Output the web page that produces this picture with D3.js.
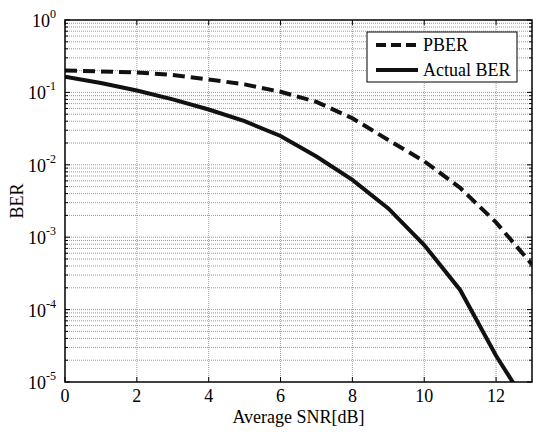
<!DOCTYPE html>
<html>
<head>
<meta charset="utf-8">
<script src="https://cdn.jsdelivr.net/npm/d3@7"></script>
<style>
  body { margin: 0; background: #fff; }
  svg text { font-family: "Liberation Serif", "DejaVu Serif", serif; }
</style>
</head>
<body>
<div id="chart"></div>
<script>
let width = 533;
let height = 432;
let margin = {left: 65, top: 20, right: 0, bottom: 50};

// data
var snr = [0, 1, 2, 3, 4, 5, 6, 7, 8, 9, 10, 11, 12, 13];
var pber = [0.20, 0.195, 0.189, 0.174, 0.151, 0.129, 0.102, 0.074, 0.044, 0.022, 0.0112, 0.0048, 0.0016, 0.00042];
var actualBer = [0.165, 0.135, 0.106, 0.080, 0.058, 0.040, 0.025, 0.013, 0.0062, 0.0025, 0.00078, 0.000187, 0.000023, 0.0000038];
var xTicks = [0, 2, 4, 6, 8, 10, 12];
var yExps = [0, -1, -2, -3, -4, -5];
var seriesNames = ["PBER", "Actual BER"];

let fontFamily = "'Liberation Serif', 'DejaVu Serif', serif";

let svg = d3.select("#chart").append("svg")
    .attr("width", width)
    .attr("height", height)
    .attr("font-family", fontFamily);

let x = d3.scaleLinear().domain([0, 13]).range([margin.left, width - margin.right - 1]);
let y = d3.scaleLog().domain([1e-5, 1]).range([height - margin.bottom, margin.top]);

let x0 = x.range()[0], x1 = x.range()[1];
let y0 = y.range()[0], y1 = y.range()[1];

// grid
let minorVals = [];
for (let e = -5; e < 0; e++) {
    for (let m = 1; m < 10; m++) minorVals.push(m * Math.pow(10, e));
}
minorVals.push(1);

svg.append("g")
    .selectAll("line")
    .data(minorVals.filter(v => v > 1e-5 && v < 1))
    .join("line")
    .attr("x1", x0).attr("x2", x1)
    .attr("y1", d => y(d)).attr("y2", d => y(d))
    .attr("stroke", "#999")
    .attr("stroke-width", 1)
    .attr("stroke-dasharray", "1,1");

svg.append("g")
    .selectAll("line")
    .data(xTicks.filter(v => v > 0))
    .join("line")
    .attr("x1", d => x(d)).attr("x2", d => x(d))
    .attr("y1", y0).attr("y2", y1)
    .attr("stroke", "#999")
    .attr("stroke-width", 1)
    .attr("stroke-dasharray", "1,1");

// tick marks, inward
let ticks = svg.append("g").attr("stroke", "#000").attr("stroke-width", 1);
minorVals.forEach(v => {
    let isMajor = Math.abs(Math.log10(v) - Math.round(Math.log10(v))) < 1e-9;
    let len = isMajor ? 5 : 3;
    ticks.append("line").attr("x1", x0).attr("x2", x0 + len).attr("y1", y(v)).attr("y2", y(v));
    ticks.append("line").attr("x1", x1).attr("x2", x1 - len).attr("y1", y(v)).attr("y2", y(v));
});
xTicks.forEach(v => {
    ticks.append("line").attr("x1", x(v)).attr("x2", x(v)).attr("y1", y0).attr("y2", y0 - 5);
    ticks.append("line").attr("x1", x(v)).attr("x2", x(v)).attr("y1", y1).attr("y2", y1 + 5);
});

// curves
svg.append("clipPath").attr("id", "clip")
    .append("rect")
    .attr("x", x0).attr("y", y1)
    .attr("width", x1 - x0).attr("height", y0 - y1);

let line = d3.line()
    .x((d, i) => x(snr[i]))
    .y(d => y(d));

let curves = svg.append("g").attr("clip-path", "url(#clip)");
curves.append("path")
    .attr("d", line(pber))
    .attr("fill", "none")
    .attr("stroke", "#111")
    .attr("stroke-width", 4)
    .attr("stroke-dasharray", "12,6");
curves.append("path")
    .attr("d", line(actualBer))
    .attr("fill", "none")
    .attr("stroke", "#111")
    .attr("stroke-width", 4);

// frame
svg.append("rect")
    .attr("x", x0).attr("y", y1)
    .attr("width", x1 - x0).attr("height", y0 - y1)
    .attr("fill", "none")
    .attr("stroke", "#000")
    .attr("stroke-width", 1.5);

// tick labels
svg.append("g")
    .selectAll("text")
    .data(xTicks)
    .join("text")
    .attr("x", d => x(d))
    .attr("y", y0 + 20)
    .attr("text-anchor", "middle")
    .attr("font-size", 18)
    .text(d => d);

let yl = svg.append("g")
    .selectAll("text")
    .data(yExps)
    .join("text")
    .attr("x", x0 - 9)
    .attr("y", d => y(Math.pow(10, d)) + 7)
    .attr("text-anchor", "end")
    .attr("font-size", 18);
yl.append("tspan").text("10");
yl.append("tspan")
    .attr("dy", -9)
    .attr("font-size", 12)
    .text(d => d);

// axis labels
svg.append("text")
    .attr("x", (x0 + x1) / 2)
    .attr("y", 423)
    .attr("text-anchor", "middle")
    .attr("font-size", 18)
    .text("Average SNR[dB]");

svg.append("text")
    .attr("transform", `translate(23,${(y0 + y1) / 2}) rotate(-90)`)
    .attr("text-anchor", "middle")
    .attr("font-size", 18)
    .text("BER");

// legend
let legend = svg.append("g");
legend.append("rect")
    .attr("x", 367).attr("y", 32)
    .attr("width", 150).attr("height", 50)
    .attr("fill", "#fff")
    .attr("stroke", "#000")
    .attr("stroke-width", 1);

seriesNames.forEach((name, i) => {
    let ly = 45 + i * 25;
    legend.append("line")
        .attr("x1", 376).attr("x2", 418)
        .attr("y1", ly).attr("y2", ly)
        .attr("stroke", "#111")
        .attr("stroke-width", 4)
        .attr("stroke-dasharray", i === 0 ? "10,5" : null);
    legend.append("text")
        .attr("x", 423)
        .attr("y", ly + 6)
        .attr("font-size", 18)
        .text(name);
});
</script>
</body>
</html>
